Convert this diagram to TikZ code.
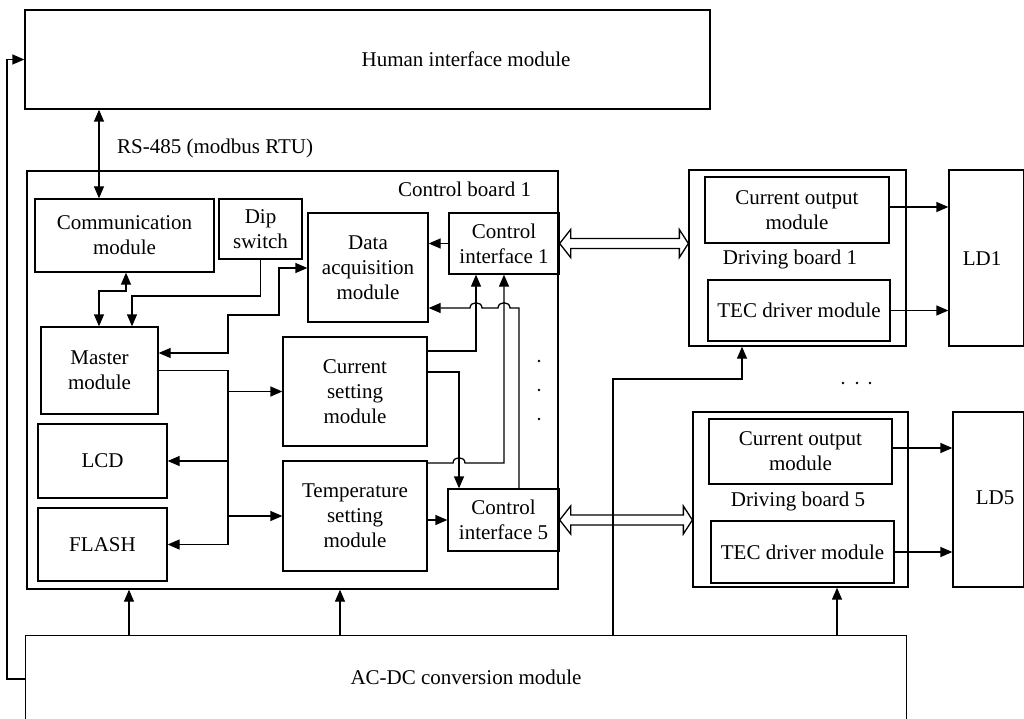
\documentclass[tikz,border=0pt]{standalone}
\usepackage{fontspec}
\setmainfont{Liberation Serif}
\usetikzlibrary{arrows.meta,calc}
\begin{document}
\begin{tikzpicture}[x=1pt,y=-1pt,
  every node/.style={font=\fontsize{21}{25}\selectfont},
  box/.style={draw,line width=1.3pt,inner sep=0pt,align=center},
  ln/.style={line width=1.3pt},
  arr/.style={ln,-{Triangle[length=12pt,width=10pt]}},
  arrb/.style={ln,{Triangle[length=12pt,width=10pt]}-{Triangle[length=12pt,width=10pt]}},
  bus/.style={line width=1.3pt,line join=miter}]
\useasboundingbox (0,0) rectangle (1024,719);

% outer modules
\node[box,minimum width=685pt,minimum height=99pt] (hmi) at (367.5,59.5) {};
\node (hmitext) at (466,59) {Human interface module};
\node[inner sep=0pt,minimum width=880pt,minimum height=83pt] (acdc) at (466,677.5) {AC-DC conversion module};
\draw[ln] (acdc.south west) -- (acdc.north west) -- (acdc.north east) -- (acdc.south east);

% control board
\node[box,minimum width=531pt,minimum height=418pt] (cb) at (292.5,380) {};
\node (cbtext) at (464.5,189) {Control board 1};
\node[box,minimum width=179pt,minimum height=73pt] (comm) at (124.5,235.5) {Communication\\module};
\node[box,minimum width=83pt,minimum height=60pt] (dip) at (260.5,229) {Dip\\switch};
\node[box,minimum width=120pt,minimum height=109pt] (daq) at (368,267.5) {Data\\acquisition\\module};
\node[box,minimum width=110pt,minimum height=61pt] (ci1) at (504,243.5) {Control\\interface 1};
\node[box,minimum width=117pt,minimum height=87pt] (master) at (99.5,370.5) {Master\\module};
\node[box,minimum width=144pt,minimum height=109pt] (cur) at (355,391.5) {Current\\setting\\module};
\node[box,minimum width=129pt,minimum height=74pt] (lcd) at (102.5,461) {LCD};
\node[box,minimum width=129pt,minimum height=73pt] (flash) at (102.5,544.5) {FLASH};
\node[box,minimum width=144pt,minimum height=110pt] (temp) at (355,516) {Temperature\\setting\\module};
\node[box,minimum width=111pt,minimum height=62pt] (ci5) at (503.5,520) {Control\\interface 5};

% driving boards
\node[box,minimum width=217pt,minimum height=176pt] (db1) at (797.5,258) {};
\node[box,minimum width=184pt,minimum height=66pt] (co1) at (797,210) {Current output\\module};
\node (db1text) at (790,259) {Driving board 1};
\node[box,minimum width=182pt,minimum height=61pt] (tec1) at (799,310.5) {TEC driver module};
\node[box,minimum width=75pt,minimum height=176pt] (ld1) at (986.5,258) {};
\node (ld1text) at (982,259) {LD1};

\node[box,minimum width=215pt,minimum height=175pt] (db5) at (800.5,499.5) {};
\node[box,minimum width=183pt,minimum height=65pt] (co5) at (800.5,451.5) {Current output\\module};
\node (db5text) at (798,501) {Driving board 5};
\node[box,minimum width=183pt,minimum height=62pt] (tec5) at (802.5,552) {TEC driver module};
\node[box,minimum width=71pt,minimum height=175pt] (ld5) at (988.5,499.5) {};
\node (ld5text) at (995,498) {LD5};

% RS-485
\draw[arrb] (99,0 |- hmi.south) -- (99,0 |- comm.north);
\node[anchor=west,inner sep=0pt] (rs) at (117,148) {RS-485 (modbus RTU)};

% feedback line on the left
\draw[arr] (acdc.west |- 0,679) -- (7,679) -- (7,59.5) -- (hmi.west);

% communication <-> master, dip -> master
\draw[arrb] (126,0 |- comm.south) -- (126,291) -- (99,291) -- (99,0 |- master.north);
\draw[arr] (dip.south) -- (260.5,296) -- (132,296) -- (132,0 |- master.north);

% master <-> data acquisition
\draw[arrb] (master.east |- 0,353) -- (228,353) -- (228,315) -- (279,315) -- (279,268) -- (daq.west |- 0,268);

% master distribution
\draw[ln] (master.east |- 0,370.5) -- (228,370.5) -- (228,544.5);
\draw[arr] (228,391.5) -- (cur.west);
\draw[arr] (228,461) -- (lcd.east);
\draw[arr] (228,516) -- (temp.west);
\draw[arr] (228,544.5) -- (flash.east);

% control interface 1 -> data acquisition
\draw[arr] (ci1.west) -- (daq.east |- ci1.west);

% current setting -> CI1 and CI5
\draw[arr] (cur.east |- 0,351) -- (476,351) -- (476,0 |- ci1.south);
\draw[arr] (cur.east |- 0,372) -- (459,372) -- (459,0 |- ci5.north);

% temperature setting -> CI1 (jump) and CI5
\draw[arr] (temp.east |- 0,463) -- (453,463) .. controls (453,456) and (465,456) .. (465,463) -- (504,463) -- (504,0 |- ci1.south);
\draw[arr] (temp.east |- ci5.west) -- (ci5.west);

% CI5 -> data acquisition (jumps)
\draw[arr] (519,0 |- ci5.north) -- (519,308) -- (510,308) .. controls (510,301) and (498,301) .. (498,308) -- (482,308) .. controls (482,301) and (470,301) .. (470,308) -- (daq.east |- 0,308);

% vertical dots
\fill (539,361) circle (1.3pt);
\fill (539,390) circle (1.3pt);
\fill (539,419) circle (1.3pt);
% horizontal dots
\fill (843,383) circle (1.3pt);
\fill (857,383) circle (1.3pt);
\fill (870,383) circle (1.3pt);

% bus arrows
\draw[bus] (ci1.east) -- ++(11,-14) -- ++(0,9) -- ($(db1.west |- ci1.east)+(-9,-5)$) -- ++(0,-9) -- (db1.west |- ci1.east) -- ++(-9,14) -- ++(0,-9) -- ($(ci1.east)+(11,5)$) -- ++(0,9) -- cycle;
\draw[bus] (ci5.east) -- ++(11,-14) -- ++(0,9) -- ($(db5.west |- ci5.east)+(-9,-5)$) -- ++(0,-9) -- (db5.west |- ci5.east) -- ++(-9,14) -- ++(0,-9) -- ($(ci5.east)+(11,5)$) -- ++(0,9) -- cycle;

% outputs to LDs
\draw[arr] (co1.east |- 0,207) -- (ld1.west |- 0,207);
\draw[arr] (tec1.east) -- (ld1.west |- tec1.east);
\draw[arr] (co5.east |- 0,448) -- (ld5.west |- 0,448);
\draw[arr] (tec5.east) -- (ld5.west |- tec5.east);

% power
\draw[arr] (129,0 |- acdc.north) -- (129,0 |- cb.south);
\draw[arr] (340,0 |- acdc.north) -- (340,0 |- cb.south);
\draw[arr] (837,0 |- acdc.north) -- (837,0 |- db5.south);
\draw[arr] (613,0 |- acdc.north) -- (613,379) -- (742,379) -- (742,0 |- db1.south);
\end{tikzpicture}
\end{document}
